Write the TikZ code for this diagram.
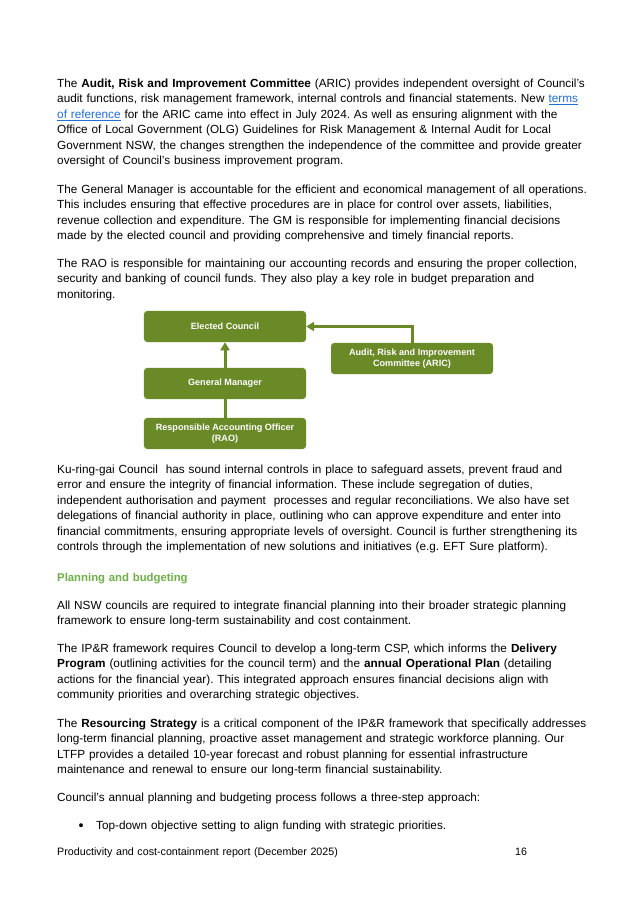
\documentclass[tikz,border=0pt]{standalone}
\usepackage{fontspec}
\setmainfont{Liberation Sans}
\usetikzlibrary{arrows.meta}
\definecolor{boxgreen}{HTML}{6A8A28}
\definecolor{headgreen}{HTML}{6DB048}
\definecolor{linkblue}{HTML}{1F6FD6}
\newcommand{\mylink}[1]{\textcolor{linkblue}{\underline{#1}}}
\frenchspacing
\tikzset{
  para/.style={anchor=base west, inner sep=0pt, text width=520pt, align=left,
    font=\fontsize{11pt}{14.55pt}\selectfont},
  orgbox/.style={fill=boxgreen, rounded corners=3pt, text=white,
    font=\bfseries\fontsize{8.5pt}{10.3pt}\selectfont, minimum width=151.4pt,
    minimum height=29pt, align=center, inner sep=1pt},
  conn/.style={draw=boxgreen, line width=2.8pt},
  tip/.style={-{Triangle[width=8.5pt,length=7.5pt]}}
}
\begin{document}
\begin{tikzpicture}[x=0.93452pt,y=-0.93452pt]
\useasboundingbox[fill=white] (0,0) rectangle (637,901);

\node[para] (p1) at (57,87) {The \textbf{Audit, Risk and Improvement Committee} (ARIC) provides independent oversight of Council's\\
audit functions, risk management framework, internal controls and financial statements. New \mylink{terms}\\
\mylink{of reference} for the ARIC came into effect in July 2024. As well as ensuring alignment with the\\
Office of Local Government (OLG) Guidelines for Risk Management \& Internal Audit for Local\\
Government NSW, the changes strengthen the independence of the committee and provide greater\\
oversight of Council's business improvement program.};

\node[para] (p2) at (57,193) {The General Manager is accountable for the efficient and economical management of all operations.\\
This includes ensuring that effective procedures are in place for control over assets, liabilities,\\
revenue collection and expenditure. The GM is responsible for implementing financial decisions\\
made by the elected council and providing comprehensive and timely financial reports.};

\node[para] (p3) at (57,267) {The RAO is responsible for maintaining our accounting records and ensuring the proper collection,\\
security and banking of council funds. They also play a key role in budget preparation and\\
monitoring.};

% diagram
\node[orgbox] (ec) at (225,326.5) {Elected Council};
\node[orgbox] (gm) at (225,383.5) {General Manager};
\node[orgbox] (rao) at (225,433.5) {Responsible Accounting Officer\\(RAO)};
\node[orgbox] (aric) at (412,358.5) {Audit, Risk and Improvement\\Committee (ARIC)};
\draw[conn] (rao) -- (gm);
\draw[conn, tip] (gm) -- (ec);
\draw[conn, tip] (aric.north) |- (ec.east);

\node[para] (p4) at (57,473) {Ku-ring-gai Council\ \ has sound internal controls in place to safeguard assets, prevent fraud and\\
error and ensure the integrity of financial information. These include segregation of duties,\\
independent authorisation and payment\ \ processes and regular reconciliations. We also have set\\
delegations of financial authority in place, outlining who can approve expenditure and enter into\\
financial commitments, ensuring appropriate levels of oversight. Council is further strengthening its\\
controls through the implementation of new solutions and initiatives (e.g. EFT Sure platform).};

\node[para, text=headgreen, font=\bfseries\fontsize{10.6pt}{14.55pt}\selectfont] (head) at (57,581) {Planning and budgeting};

\node[para] (p5) at (57,609) {All NSW councils are required to integrate financial planning into their broader strategic planning\\
framework to ensure long-term sustainability and cost containment.};

\node[para] (p6) at (57,652) {The IP\&R framework requires Council to develop a long-term CSP, which informs the \textbf{Delivery}\\
\textbf{Program} (outlining activities for the council term) and the \textbf{annual Operational Plan} (detailing\\
actions for the financial year). This integrated approach ensures financial decisions align with\\
community priorities and overarching strategic objectives.};

\node[para] (p7) at (57,727) {The \textbf{Resourcing Strategy} is a critical component of the IP\&R framework that specifically addresses\\
long-term financial planning, proactive asset management and strategic workforce planning. Our\\
LTFP provides a detailed 10-year forecast and robust planning for essential infrastructure\\
maintenance and renewal to ensure our long-term financial sustainability.};

\node[para] (p8) at (57,801) {Council's annual planning and budgeting process follows a three-step approach:};

\node[para, text width=20pt, font=\fontsize{13.5pt}{14.55pt}\selectfont] (bul) at (78.5,830) {•};
\node[para] (b1) at (96,829) {Top-down objective setting to align funding with strategic priorities.};

\node[para, font=\fontsize{10pt}{12pt}\selectfont] (foot) at (57,855) {Productivity and cost-containment report (December 2025)};
\node[para, text width=30pt, font=\fontsize{10pt}{12pt}\selectfont] (pg) at (515,855) {16};
\end{tikzpicture}
\end{document}
